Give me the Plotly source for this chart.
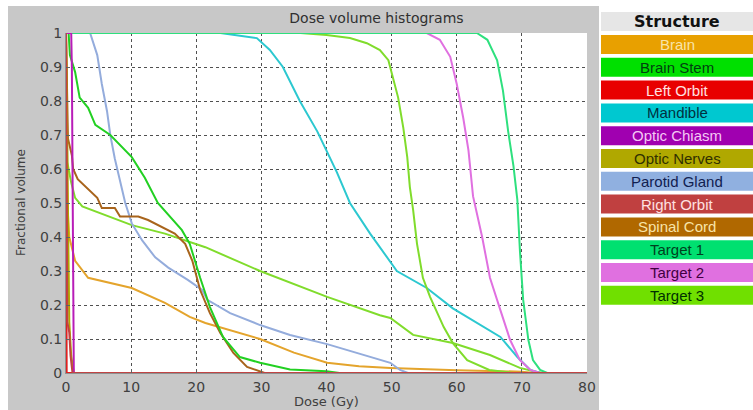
import plotly.graph_objects as go

# ---------------- data (dose in Gy, fractional volume) ----------------
structures = ["Brain", "Brain Stem", "Left Orbit", "Mandible", "Optic Chiasm", "Optic Nerves",
              "Parotid Gland", "Right Orbit", "Spinal Cord", "Target 1", "Target 2", "Target 3"]

brain_dose = [0, 0.1, 0.2, 0.5, 1.4, 3.4, 10.1, 15.2, 19.0, 21.4, 29.8, 35, 40.1, 45, 49.8, 60, 70, 72, 80]
brain_vol = [1.0, 0.7, 0.5, 0.4, 0.33, 0.28, 0.25, 0.206, 0.165, 0.147, 0.10, 0.06, 0.03, 0.02, 0.015, 0.008, 0.004, 0, 0]

stem_dose = [0, 0.4, 0.6, 1.4, 2.1, 3.4, 4.5, 6.8, 10.1, 12.1, 14.1, 17.8, 19.0, 20.6, 22.1, 24.1, 26.7, 29.8, 34.4, 40, 42, 80]
stem_vol = [1.0, 1.0, 0.935, 0.885, 0.81, 0.78, 0.73, 0.70, 0.635, 0.574, 0.50, 0.42, 0.38, 0.28, 0.194, 0.106, 0.047, 0.03, 0.01, 0.005, 0, 0]

lorbit_dose = [0, 0.05, 0.1, 80]
lorbit_vol = [1.0, 0.5, 0, 0]

mand_dose = [0, 23.7, 29.3, 31.3, 33.3, 35.9, 38.6, 40.1, 41.6, 43.6, 46.7, 50.8, 55.4, 59.4, 63.1, 66.7, 69.3, 71.3, 72.8, 80]
mand_vol = [1.0, 1.0, 0.985, 0.95, 0.90, 0.80, 0.71, 0.65, 0.59, 0.50, 0.41, 0.30, 0.25, 0.19, 0.147, 0.106, 0.047, 0.009, 0, 0]

chiasm_dose = [0, 0.8, 0.9, 1.0, 1.1, 1.2]
chiasm_vol = [1.0, 1.0, 0.9, 0.5, 0.1, 0]

nerves_dose = [0, 0.2, 0.3, 0.5, 0.8, 1.2]
nerves_vol = [1.0, 0.6, 0.4, 0.15, 0.05, 0]

parotid_dose = [0, 3.7, 4.8, 5.5, 6.3, 6.8, 7.5, 8.3, 9.1, 10.1, 11.7, 13.7, 15.7, 18.7, 20.9, 21.7, 25.2, 29.8, 34.4, 40.1, 44.7, 49.8, 51.3, 52.5, 80]
parotid_vol = [1.0, 1.0, 0.935, 0.85, 0.77, 0.70, 0.63, 0.56, 0.50, 0.44, 0.39, 0.34, 0.31, 0.274, 0.244, 0.215, 0.176, 0.141, 0.112, 0.085, 0.059, 0.03, 0.009, 0, 0]

rorbit_dose = [0, 0.05, 0.1, 0.2, 0.5, 0.7, 1.0, 80]
rorbit_vol = [1.0, 0.6, 0.3, 0.15, 0.12, 0.05, 0, 0]

cord_dose = [0, 0.15, 0.3, 0.9, 1.1, 1.8, 2.9, 4.0, 4.8, 5.5, 7.5, 8.3, 11.1, 12.6, 14.7, 16.7, 18.3, 19.4, 20.6, 22.1, 23.7, 25.7, 27.8, 29.8, 30.5]
cord_vol = [1.0, 0.76, 0.69, 0.64, 0.60, 0.57, 0.55, 0.53, 0.515, 0.485, 0.485, 0.46, 0.46, 0.45, 0.43, 0.41, 0.38, 0.33, 0.244, 0.176, 0.118, 0.059, 0.018, 0.003, 0]

t1_dose = [0, 63.1, 64.7, 66.2, 67.1, 67.9, 68.7, 69.3, 69.7, 70.2, 71.0, 71.7, 72.8, 73.9, 80]
t1_vol = [1.0, 1.0, 0.98, 0.92, 0.83, 0.71, 0.61, 0.51, 0.36, 0.215, 0.097, 0.038, 0.009, 0, 0]

t2_dose = [0, 55.4, 57.4, 59.0, 60.0, 61.0, 61.8, 62.5, 63.9, 65.1, 66.7, 68.2, 69.7, 71.3, 72.8, 80]
t2_vol = [1.0, 1.0, 0.98, 0.93, 0.85, 0.75, 0.655, 0.52, 0.40, 0.28, 0.185, 0.097, 0.038, 0.009, 0, 0]

t3_dose = [0, 36, 40, 43.6, 46.2, 48.2, 49.5, 50.2, 51.0, 51.8, 52.4, 52.8, 53.3, 53.9, 54.8, 55.9, 58.0, 59.4, 61.6, 65.0, 68.7, 80]
t3_vol = [1.0, 1.0, 0.994, 0.985, 0.97, 0.95, 0.92, 0.87, 0.81, 0.72, 0.635, 0.547, 0.48, 0.38, 0.28, 0.224, 0.135, 0.088, 0.038, 0.009, 0, 0]

# second yellow-green curve (drawn in the Target 3 colour, lower curve)
t3b_dose = [0, 0.2, 0.8, 1.4, 2.5, 10.1, 15.2, 21.4, 29.8, 40.1, 48.2, 49.8, 53.3, 59.4, 65.1, 69.7, 72.3, 73.5]
t3b_vol = [1.0, 0.62, 0.56, 0.515, 0.49, 0.435, 0.41, 0.37, 0.30, 0.224, 0.17, 0.162, 0.112, 0.088, 0.053, 0.015, 0.003, 0]

x_ticks = [0, 10, 20, 30, 40, 50, 60, 70, 80]
y_ticks = [0, 0.1, 0.2, 0.3, 0.4, 0.5, 0.6, 0.7, 0.8, 0.9, 1]
y_tick_labels = ["0", "0.1", "0.2", "0.3", "0.4", "0.5", "0.6", "0.7", "0.8", "0.9", "1"]

# ---------------- styles ----------------
line_colors = {
    "Brain": "#e4a42c", "Brain Stem": "#22d022", "Left Orbit": "#e02020", "Mandible": "#2cc8d0",
    "Optic Chiasm": "#b81cb8", "Optic Nerves": "#b0a800", "Parotid Gland": "#94acdc",
    "Right Orbit": "#c04444", "Spinal Cord": "#a8641c", "Target 1": "#2ee07e",
    "Target 2": "#e070e0", "Target 3": "#80dc2c",
}
legend_bg = {
    "Brain": "#e8a000", "Brain Stem": "#00e000", "Left Orbit": "#e80000", "Mandible": "#00c8d0",
    "Optic Chiasm": "#a000b0", "Optic Nerves": "#b0a800", "Parotid Gland": "#90b0e0",
    "Right Orbit": "#c04040", "Spinal Cord": "#b06800", "Target 1": "#00e070",
    "Target 2": "#e070e0", "Target 3": "#70e000",
}
legend_fg = {
    "Brain": "#f8e4a8", "Brain Stem": "#004010", "Left Orbit": "#ffe0e0", "Mandible": "#003040",
    "Optic Chiasm": "#f4c8f4", "Optic Nerves": "#303000", "Parotid Gland": "#102050",
    "Right Orbit": "#ffe0e0", "Spinal Cord": "#f8e4a8", "Target 1": "#004020",
    "Target 2": "#400040", "Target 3": "#003000",
}

series = [
    ("Target 3", t3b_dose, t3b_vol),
    ("Brain", brain_dose, brain_vol),
    ("Parotid Gland", parotid_dose, parotid_vol),
    ("Spinal Cord", cord_dose, cord_vol),
    ("Brain Stem", stem_dose, stem_vol),
    ("Mandible", mand_dose, mand_vol),
    ("Target 3", t3_dose, t3_vol),
    ("Target 2", t2_dose, t2_vol),
    ("Target 1", t1_dose, t1_vol),
    ("Optic Nerves", nerves_dose, nerves_vol),
    ("Optic Chiasm", chiasm_dose, chiasm_vol),
    ("Left Orbit", lorbit_dose, lorbit_vol),
    ("Right Orbit", rorbit_dose, rorbit_vol),
]

fig = go.Figure()
for name, xs, ys in series:
    fig.add_trace(go.Scatter(x=xs, y=ys, mode="lines", name=name, showlegend=False,
                             line=dict(color=line_colors[name], width=2)))

W, H = 753, 410
L, R, T, B = 66, 587, 33, 373


def px(xp):
    return (xp - L) / (R - L)


def py(yp):
    return (B - yp) / (B - T)


shapes = []
annotations = []
GRAY = "#c8c8c8"
# white strips around the grey panel
for x0, y0, x1, y1 in [(0, 0, 8, H), (0, 0, W, 6), (599, 0, W, H)]:
    shapes.append(dict(type="rect", xref="paper", yref="paper", x0=px(x0), x1=px(x1),
                       y0=py(y1), y1=py(y0), fillcolor="white", line=dict(width=0), layer="below"))

# axis titles
annotations.append(dict(text="Dose (Gy)", xref="paper", yref="paper", x=px(326), y=py(401),
                        xanchor="center", yanchor="middle", showarrow=False,
                        font=dict(size=13, color="#404040", family="DejaVu Sans")))
annotations.append(dict(text="Fractional volume", xref="paper", yref="paper", x=px(21), y=py(203),
                        xanchor="center", yanchor="middle", showarrow=False, textangle=-90,
                        font=dict(size=12, color="#404040", family="DejaVu Sans")))

# legend table
LX0, LX1 = 601, 753
LXC = (LX0 + LX1) / 2
shapes.append(dict(type="rect", xref="paper", yref="paper", x0=px(LX0), x1=px(LX1),
                   y0=py(31), y1=py(12), fillcolor="#e6e6e6", line=dict(width=0)))
annotations.append(dict(text="<b>Structure</b>", xref="paper", yref="paper",
                        x=px(LXC), y=py(21.5), xanchor="center", yanchor="middle", showarrow=False,
                        font=dict(size=16, color="#111111", family="DejaVu Sans")))
pitch = 22.8
for i, name in enumerate(structures):
    top = 35 + pitch * i
    bot = top + 19
    shapes.append(dict(type="rect", xref="paper", yref="paper", x0=px(LX0), x1=px(LX1),
                       y0=py(bot), y1=py(top), fillcolor=legend_bg[name], line=dict(width=0)))
    annotations.append(dict(text=name, xref="paper", yref="paper",
                            x=px(LXC), y=py((top + bot) / 2), xanchor="center", yanchor="middle",
                            showarrow=False,
                            font=dict(size=15, color=legend_fg[name], family="Liberation Sans")))

fig.update_layout(
    width=W, height=H,
    margin=dict(l=L, r=W - R, t=T, b=H - B, autoexpand=False),
    paper_bgcolor=GRAY, plot_bgcolor="white",
    font=dict(family="DejaVu Sans", color="#404040", size=13),
    title=dict(text="Dose volume histograms", x=px((L + R) / 2), xanchor="center",
               y=1 - 18 / H, yanchor="middle", font=dict(size=14, color="#303030")),
    shapes=shapes, annotations=annotations,
    xaxis=dict(range=[0, 80], tickvals=x_ticks, ticktext=[str(v) for v in x_ticks],
               automargin=False,
               showgrid=True, gridcolor="#505050", griddash="dot", gridwidth=1,
               zeroline=False, showline=True, linecolor="#909090", linewidth=1,
               ticks="inside", ticklen=4, tickcolor="#606060", ticklabelstandoff=1,
               tickfont=dict(size=14, color="#404040")),
    yaxis=dict(range=[0, 1], tickvals=y_ticks, ticktext=y_tick_labels,
               automargin=False,
               showgrid=True, gridcolor="#505050", griddash="dot", gridwidth=1,
               zeroline=False, showline=True, linecolor="#909090", linewidth=1,
               ticks="inside", ticklen=4, tickcolor="#606060",
               tickfont=dict(size=14, color="#404040")),
)

fig.write_html("out.html")
